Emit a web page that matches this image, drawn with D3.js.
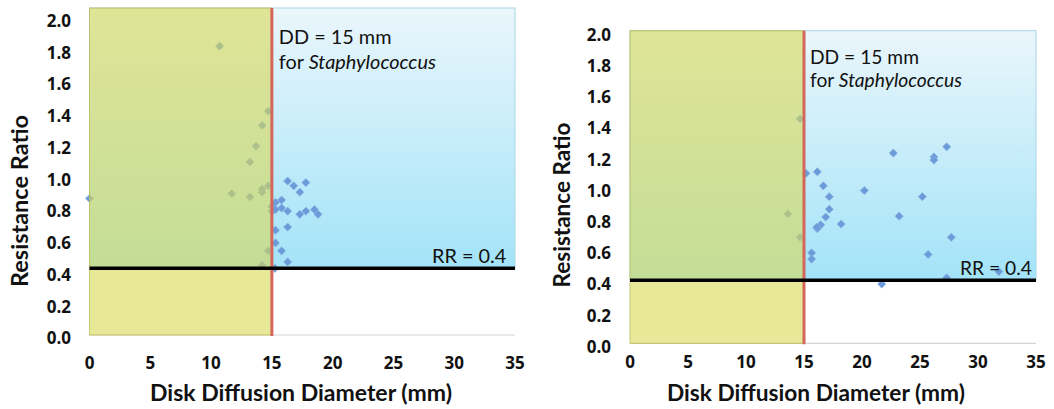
<!DOCTYPE html>
<html>
<head>
<meta charset="utf-8">
<script src="https://cdn.jsdelivr.net/npm/d3@7"></script>
<style>
  html, body { margin: 0; padding: 0; background: #fff; }
  svg { display: block; }
  text { font-family: Lato, "Open Sans", sans-serif; fill: #111; }
  text.bold { font-family: "Open Sans", Lato, sans-serif; font-weight: bold; }
  text.title { font-family: Lato, "Open Sans", sans-serif; font-weight: bold; }
</style>
</head>
<body>
<svg id="chart" width="1054" height="409"></svg>
<script>
// ---------- data ----------
const xTicks = [0, 5, 10, 15, 20, 25, 30, 35];
const yTicks = [0, 0.2, 0.4, 0.6, 0.8, 1.0, 1.2, 1.4, 1.6, 1.8, 2.0];
const xTitle = "Disk Diffusion Diameter (mm)";
const yTitle = "Resistance Ratio";
const ddCutoff = 15;
const rrLabel = "RR = 0.4";

// left panel
const leftDD = [0, 10.7, 14.7, 14.2, 13.7, 13.2, 11.7, 13.2, 14.2, 14.2, 14.7, 15.0, 15.0, 14.7, 14.2,
  15.3, 15.3, 15.3, 15.25, 15.8, 15.8, 15.8, 16.3, 16.3, 16.3, 16.3, 16.8, 17.3, 17.3, 17.8, 17.8, 18.5, 18.8, 15.3];
const leftRR = [0.86, 1.82, 1.41, 1.32, 1.19, 1.09, 0.89, 0.87, 0.90, 0.92, 0.94, 0.81, 0.78, 0.53, 0.44,
  0.835, 0.66, 0.58, 0.42, 0.85, 0.80, 0.53, 0.97, 0.78, 0.68, 0.46, 0.94, 0.90, 0.76, 0.96, 0.78, 0.79, 0.76, 0.79];
const leftRRLine = 0.42;
const leftYMax = 2.06;

// right panel
const rightDD = [14.66, 13.6, 14.66, 15.17, 16.15, 16.67, 17.18, 17.18, 16.87, 16.44, 16.15, 16.1, 18.2,
  15.66, 15.66, 20.2, 22.7, 23.2, 21.7, 25.2, 25.7, 26.2, 26.2, 27.3, 27.7, 27.3, 31.8];
const rightRR = [1.44, 0.83, 0.68, 1.09, 1.10, 1.01, 0.94, 0.86, 0.81, 0.76, 0.735, 0.745, 0.765,
  0.58, 0.54, 0.98, 1.22, 0.815, 0.38, 0.94, 0.57, 1.195, 1.175, 1.26, 0.68, 0.42, 0.46];
const rightRRLine = 0.405;
const rightYMax = 2.005;

// ---------- drawing ----------
const svg = d3.select("#chart");
const defs = svg.append("defs");
const blueGrad = defs.append("linearGradient").attr("id", "blueGrad")
  .attr("x1", 0).attr("y1", 0).attr("x2", 0).attr("y2", 1);
blueGrad.append("stop").attr("offset", "0%").attr("stop-color", "#eaf6fb");
blueGrad.append("stop").attr("offset", "100%").attr("stop-color", "#a3e3f8");

function fitText(sel, target) {
  const node = sel.node();
  const fs = parseFloat(sel.attr("font-size"));
  const len = node.getComputedTextLength();
  let nfs = fs;
  if (len > 0) nfs = fs * target / len;
  sel.attr("font-size", nfs.toFixed(2));
  return nfs;
}

function drawPanel(cfg) {
  const x = d3.scaleLinear().domain([0, 35]).range([cfg.x0, cfg.x1]);
  const y = d3.scaleLinear().domain([0, cfg.yMax]).range([cfg.y0, cfg.yTop]);
  const g = svg.append("g");

  // blue gradient region above RR line
  g.append("rect")
    .attr("x", x(0)).attr("y", y(cfg.yMax))
    .attr("width", x(35) - x(0)).attr("height", y(cfg.rrLine) - y(cfg.yMax))
    .attr("fill", "url(#blueGrad)")
    .attr("stroke", "#a9d6e8").attr("stroke-width", 1);

  // x axis line
  g.append("line")
    .attr("x1", x(0)).attr("x2", x(35)).attr("y1", y(0)).attr("y2", y(0))
    .attr("stroke", "#d6d6d6").attr("stroke-width", 1.2);

  // points
  const diamond = d3.symbol().type(d3.symbolSquare).size(34);
  g.selectAll("path.pt").data(cfg.dd.map((d, i) => [d, cfg.rr[i]]))
    .enter().append("path").attr("class", "pt")
    .attr("d", diamond)
    .attr("transform", d => `translate(${x(d[0])},${y(d[1])}) rotate(45)`)
    .attr("fill", "#6b9bd9").attr("stroke", "#8db5e6").attr("stroke-width", 0.6);

  // yellow semi-transparent region
  g.append("rect")
    .attr("x", x(0)).attr("y", y(cfg.yMax))
    .attr("width", x(ddCutoff) - x(0)).attr("height", y(0) - y(cfg.yMax))
    .attr("fill", "rgb(217,217,85)").attr("fill-opacity", 0.6)
    .attr("stroke", "rgb(190,190,90)").attr("stroke-opacity", 0.8).attr("stroke-width", 1);

  // red cutoff line
  g.append("line")
    .attr("x1", x(ddCutoff)).attr("x2", x(ddCutoff))
    .attr("y1", y(cfg.yMax)).attr("y2", y(0) + 1)
    .attr("stroke", "#d4665c").attr("stroke-width", 3);

  // black RR line
  g.append("line")
    .attr("x1", x(0)).attr("x2", x(35)).attr("y1", y(cfg.rrLine)).attr("y2", y(cfg.rrLine))
    .attr("stroke", "#000").attr("stroke-width", 3.5);

  // y tick labels
  g.selectAll("text.yt").data(yTicks).enter().append("text").attr("class", "yt bold")
    .attr("x", cfg.yLabelX).attr("y", d => y(d) + 3.5)
    .attr("dy", "0.35em").attr("text-anchor", "end")
    .attr("font-size", 17)
    .text(d => d3.format(".1f")(d));

  // x tick labels
  g.selectAll("text.xt").data(xTicks).enter().append("text").attr("class", "xt bold")
    .attr("x", d => x(d)).attr("y", cfg.xLabelY)
    .attr("dy", "0.35em").attr("text-anchor", "middle")
    .attr("font-size", 17)
    .text(d => d);

  // axis titles
  const xt = g.append("text").attr("class", "title")
    .attr("x", cfg.xTitleX).attr("y", cfg.xTitleY).attr("dy", "0.35em")
    .attr("text-anchor", "middle").attr("font-size", 21)
    .text(xTitle);
  fitText(xt, cfg.xTitleW);
  const yt = g.append("text").attr("class", "title")
    .attr("transform", `translate(${cfg.yTitleX},${cfg.yTitleY}) rotate(-90)`)
    .attr("dy", "0.35em")
    .attr("text-anchor", "middle").attr("font-size", 21)
    .text(yTitle);
  fitText(yt, cfg.yTitleW);

  // annotation DD
  const ax = x(ddCutoff) + cfg.annDx;
  const l1 = g.append("text").attr("x", ax).attr("y", y(cfg.yMax) + cfg.ann1).attr("dy", "0.35em")
    .attr("font-size", 17).text("DD = 15 mm");
  const l2 = g.append("text").attr("x", ax).attr("y", y(cfg.yMax) + cfg.ann2).attr("dy", "0.35em")
    .attr("font-size", 17);
  l2.append("tspan").text("for ");
  l2.append("tspan").attr("font-style", "italic").text("Staphylococcus");
  const afs = fitText(l2, cfg.ann2W);
  l1.attr("font-size", afs.toFixed(2));

  // RR label
  g.append("text").attr("x", cfg.rrX).attr("y", y(cfg.rrLine) - 12).attr("dy", "0.35em")
    .attr("font-size", afs.toFixed(2)).text(rrLabel);
}

drawPanel({
  dd: leftDD, rr: leftRR, rrLine: leftRRLine, yMax: leftYMax,
  x0: 89.5, x1: 515, y0: 335, yTop: 8,
  yLabelX: 71, xLabelY: 363,
  xTitleX: 301, xTitleY: 393, xTitleW: 302,
  yTitleX: 20, yTitleY: 201, yTitleW: 172,
  annDx: 7, ann1: 29, ann2: 54, ann2W: 157,
  rrX: 432
});

drawPanel({
  dd: rightDD, rr: rightRR, rrLine: rightRRLine, yMax: rightYMax,
  x0: 630, x1: 1036, y0: 343.3, yTop: 30.7,
  yLabelX: 611, xLabelY: 362,
  xTitleX: 816, xTitleY: 393, xTitleW: 298,
  yTitleX: 562, yTitleY: 205, yTitleW: 165,
  annDx: 6, ann1: 27, ann2: 50, ann2W: 152,
  rrX: 960
});
</script>
</body>
</html>
